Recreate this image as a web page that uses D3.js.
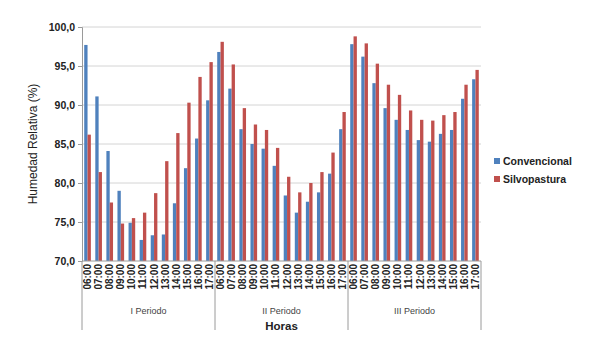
<!DOCTYPE html>
<html>
<head>
<meta charset="utf-8">
<script src="https://cdn.jsdelivr.net/npm/d3@7"></script>
<style>
  body { margin: 0; background: #fff; }
  svg { font-family: "Liberation Sans", Arial, sans-serif; }
</style>
</head>
<body>
<svg id="chart" width="600" height="352"></svg>
<script>
// Datos
const horas = ["06:00", "07:00", "08:00", "09:00", "10:00", "11:00", "12:00", "13:00", "14:00", "15:00", "16:00", "17:00"];
const periodos = ["I Periodo", "II Periodo", "III Periodo"];
const series = ["Convencional", "Silvopastura"];

const convencional = [
    97.7, 91.1, 84.1, 79.0, 74.9, 72.7, 73.3, 73.4, 77.4, 81.9, 85.7, 90.6,
    96.8, 92.1, 86.9, 85.0, 84.4, 82.2, 78.4, 76.2, 77.6, 78.8, 81.2, 86.9,
    97.8, 96.2, 92.8, 89.6, 88.1, 86.8, 85.5, 85.3, 86.3, 86.8, 90.8, 93.3
];
const silvopastura = [
    86.2, 81.4, 77.5, 74.8, 75.5, 76.2, 78.7, 82.8, 86.4, 90.3, 93.6, 95.5,
    98.1, 95.2, 89.6, 87.5, 86.8, 84.5, 80.8, 78.8, 80.0, 81.4, 83.9, 89.1,
    98.8, 97.9, 95.3, 92.6, 91.3, 89.3, 88.1, 88.0, 88.7, 89.1, 92.6, 94.5
];
const yTicks = [70, 75, 80, 85, 90, 95, 100];

const colores = ["#4f81bd", "#c0504d"];

// Area di disegno
const margin = { left: 82, right: 119, top: 27, bottom: 91 };
const width = 600, height = 352;
const svg = d3.select("#chart");

// categorie: periodo + hora
const cats = [];
periodos.forEach((p, pi) => horas.forEach((h, hi) => cats.push({ key: pi + "_" + h, hora: h, periodo: pi, i: pi * 12 + hi })));

const x = d3.scaleBand()
    .domain(cats.map(d => d.key))
    .range([margin.left, width - margin.right])
    .paddingInner(0.4)
    .paddingOuter(0.2);

const xSub = d3.scaleBand()
    .domain(series)
    .range([0, x.bandwidth()]);

const y = d3.scaleLinear()
    .domain([70, 100])
    .range([height - margin.bottom, margin.top]);

// griglia
svg.append("g")
    .selectAll("line")
    .data(yTicks.slice(1))
    .enter()
    .append("line")
    .attr("x1", margin.left)
    .attr("x2", width - margin.right)
    .attr("y1", d => y(d))
    .attr("y2", d => y(d))
    .attr("stroke", "#d4d4d4")
    .attr("stroke-width", 1);

// barre
const valori = [convencional, silvopastura];
series.forEach((s, si) => {
    svg.append("g")
        .selectAll("rect")
        .data(cats)
        .enter()
        .append("rect")
        .attr("x", d => x(d.key) + xSub(s))
        .attr("width", xSub.bandwidth())
        .attr("y", d => y(valori[si][d.i]))
        .attr("height", d => y(70) - y(valori[si][d.i]))
        .attr("fill", colores[si]);
});

// asse y
const yAxis = d3.axisLeft(y)
    .tickValues(yTicks)
    .tickSize(4)
    .tickFormat(d => d3.format(".1f")(d).replace(".", ","));

const gy = svg.append("g")
    .attr("transform", "translate(" + margin.left + ",0)")
    .call(yAxis);
gy.select(".domain").attr("stroke", "#9a9a9a");
gy.selectAll(".tick line").attr("stroke", "#9a9a9a");
gy.selectAll("text")
    .attr("font-size", 10.5)
    .attr("font-weight", "bold")
    .attr("fill", "#222")
    .attr("x", -7);

svg.append("text")
    .attr("transform", "translate(37," + ((margin.top + height - margin.bottom) / 2) + ") rotate(-90)")
    .attr("text-anchor", "middle")
    .attr("font-size", 12)
    .attr("fill", "#222")
    .text("Humedad Relativa (%)");

// asse x
const y0 = y(70);
svg.append("line")
    .attr("x1", margin.left)
    .attr("x2", width - margin.right)
    .attr("y1", y0)
    .attr("y2", y0)
    .attr("stroke", "#9a9a9a");

svg.append("g")
    .selectAll("text")
    .data(cats)
    .enter()
    .append("text")
    .attr("transform", d => "translate(" + (x(d.key) + x.bandwidth() / 2 + 3.5) + "," + (y0 + 3) + ") rotate(-90)")
    .attr("text-anchor", "end")
    .attr("font-size", 10)
    .attr("font-weight", "bold")
    .attr("fill", "#222")
    .text(d => d.hora);

// separatori periodi
const periodoW = (width - margin.right - margin.left) / periodos.length;
svg.append("g")
    .selectAll("line")
    .data(d3.range(periodos.length + 1))
    .enter()
    .append("line")
    .attr("x1", d => margin.left + d * periodoW)
    .attr("x2", d => margin.left + d * periodoW)
    .attr("y1", y0)
    .attr("y2", y0 + 69)
    .attr("stroke", "#9a9a9a");

svg.append("g")
    .selectAll("text")
    .data(periodos)
    .enter()
    .append("text")
    .attr("x", (d, i) => margin.left + (i + 0.5) * periodoW)
    .attr("y", y0 + 53)
    .attr("text-anchor", "middle")
    .attr("font-size", 9)
    .attr("fill", "#444")
    .text(d => d);

svg.append("text")
    .attr("x", margin.left + 1.5 * periodoW)
    .attr("y", y0 + 69)
    .attr("text-anchor", "middle")
    .attr("font-size", 11.5)
    .attr("font-weight", "bold")
    .attr("fill", "#222")
    .text("Horas");

// legenda
const legend = svg.append("g")
    .selectAll("g")
    .data(series)
    .enter()
    .append("g")
    .attr("transform", (d, i) => "translate(494," + (161 + i * 18) + ")");
legend.append("rect")
    .attr("width", 6)
    .attr("height", 6)
    .attr("y", -3)
    .attr("fill", (d, i) => colores[i]);
legend.append("text")
    .attr("x", 9)
    .attr("y", 4)
    .attr("font-size", 10.5)
    .attr("font-weight", "bold")
    .attr("fill", "#222")
    .text(d => d);
</script>
</body>
</html>
